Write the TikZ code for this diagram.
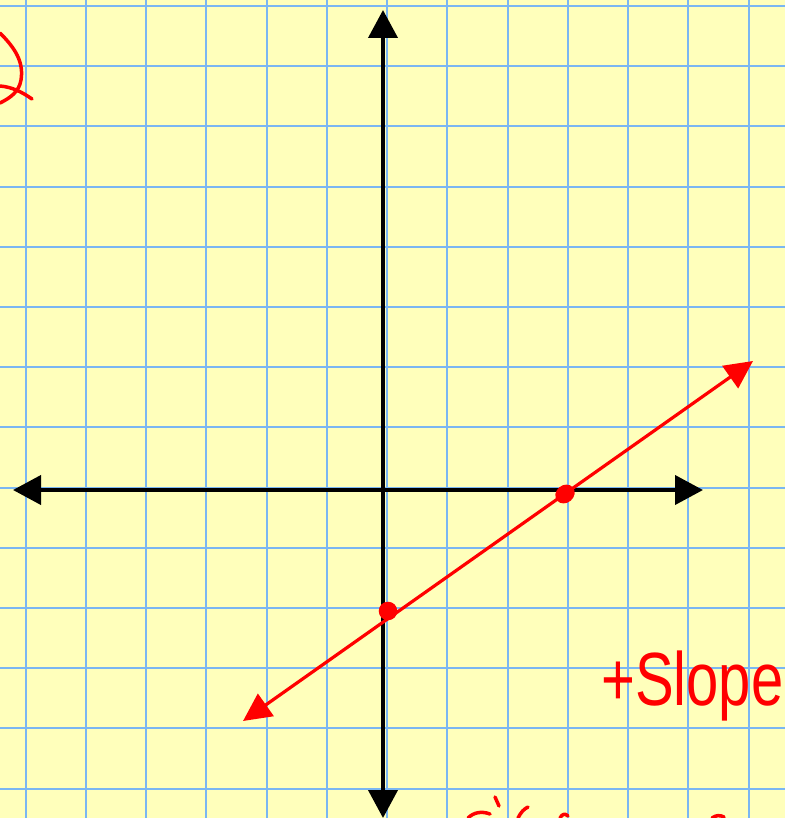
\documentclass[tikz,border=0pt]{standalone}
\usepackage{fontspec}
\setmainfont{Liberation Sans}
\usetikzlibrary{arrows.meta}
\definecolor{paper}{RGB}{255,255,187}
\definecolor{gridblue}{RGB}{122,182,242}
\definecolor{ink}{RGB}{255,0,0}
\tikzset{
  gridline/.style={draw=gridblue, line width=2pt},
  axisline/.style={draw=black, line width=4pt, {Triangle[length=28pt,width=29pt]}-{Triangle[length=28pt,width=29pt]}},
  redline/.style={draw=ink, line width=3.2pt, {Triangle[length=28pt,width=27pt]}-{Triangle[length=28pt,width=27pt]}},
  reddot/.style={draw=ink, fill=ink, line width=2.5pt},
  scribble/.style={draw=ink, line width=3.5pt, line cap=round, line join=round},
  handtext/.style={text=ink, font=\fontsize{58}{58}\selectfont, inner sep=0pt}
}
\begin{document}
\begin{tikzpicture}[x=1pt,y=-1pt]
  \useasboundingbox (0,0) rectangle (785,818);
  \fill[paper] (0,0) rectangle (785,818);
  % grid
  \foreach \k in {0,...,12} { \draw[gridline] ({25.5+60.25*\k},0) -- ({25.5+60.25*\k},818); }
  \foreach \k in {0,...,13} { \draw[gridline] (0,{6+60.2*\k}) -- (785,{6+60.2*\k}); }
  % axes
  \coordinate (ytop) at (383,10);
  \coordinate (ybot) at (383,818);
  \coordinate (xleft) at (13,490);
  \coordinate (xright) at (703,490);
  \draw[axisline] (ybot) -- (ytop);
  \draw[axisline] (xleft) -- (xright);
  % red line
  \coordinate (lstart) at (243,721);
  \coordinate (lend) at (753,361);
  \draw[redline] (lstart) -- (lend);
  \coordinate (xint) at (565,494);
  \coordinate (yint) at (388,611);
  \draw[reddot, rotate around={40:(xint)}] (xint) ellipse (9 and 7.5);
  \draw[reddot] (yint) circle (8);
  % label
  \node[handtext, anchor=base west] (slope) at (601,705) {\scalebox{1}[1.3]{+Slope}};
  % handwritten fragments
  \draw[scribble] (0,33) .. controls (15,48) and (24,62) .. (21,80) .. controls (19,92) and (10,98) .. (0,103);
  \draw[scribble] (0,86) .. controls (12,87) and (22,92) .. (32,99);
  \draw[scribble] (468,818) .. controls (474,812) and (482,811) .. (490,814);
  \draw[scribble] (495,797) -- (499,806);
  \draw[scribble] (518,818) .. controls (521,812) and (524,809) .. (528,807);
  \draw[scribble] (560,818) .. controls (562,814) and (565,813) .. (568,816);
  \draw[scribble] (712,818) .. controls (716,815) and (720,815) .. (724,817);
\end{tikzpicture}
\end{document}
